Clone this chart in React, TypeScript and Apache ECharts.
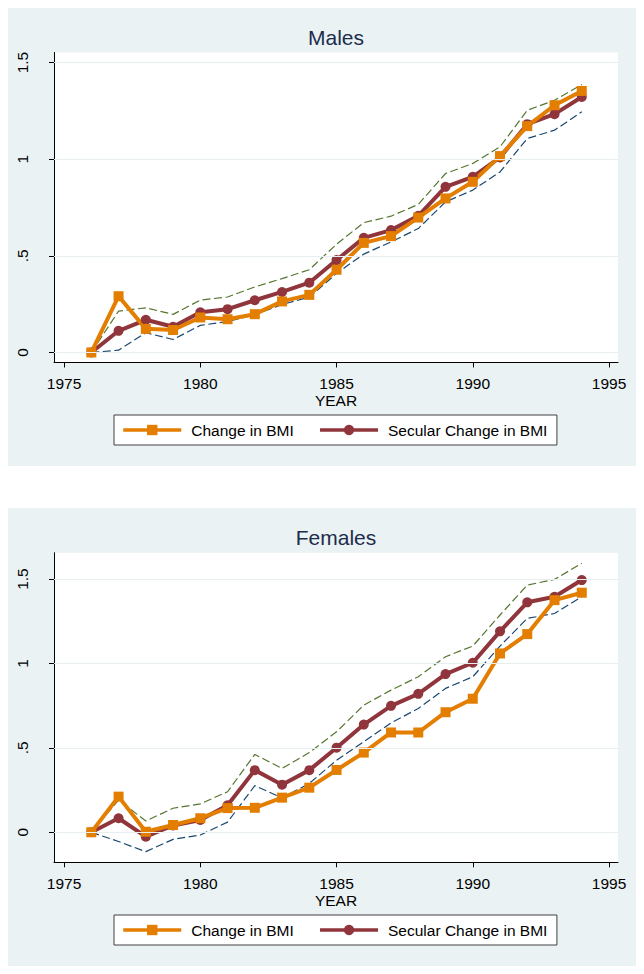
import React, { useEffect, useRef } from "react";
import * as echarts from "echarts";

const years = [1976, 1977, 1978, 1979, 1980, 1981, 1982, 1983, 1984, 1985, 1986, 1987, 1988, 1989, 1990, 1991, 1992, 1993, 1994];

const maleChange = [0, 0.291, 0.122, 0.116, 0.181, 0.172, 0.198, 0.264, 0.298, 0.428, 0.567, 0.602, 0.698, 0.797, 0.883, 1.016, 1.171, 1.279, 1.353];
const maleSecular = [0, 0.112, 0.169, 0.133, 0.208, 0.224, 0.27, 0.313, 0.361, 0.478, 0.593, 0.633, 0.707, 0.857, 0.909, 1.009, 1.181, 1.233, 1.322];
const maleUpper = [0, 0.214, 0.231, 0.197, 0.271, 0.287, 0.339, 0.382, 0.428, 0.56, 0.672, 0.705, 0.766, 0.926, 0.978, 1.064, 1.253, 1.305, 1.386];
const maleLower = [0, 0.012, 0.102, 0.067, 0.14, 0.16, 0.195, 0.248, 0.286, 0.409, 0.509, 0.572, 0.641, 0.779, 0.84, 0.934, 1.107, 1.15, 1.245];

const femaleChange = [0, 0.211, 0.003, 0.043, 0.083, 0.143, 0.145, 0.205, 0.264, 0.369, 0.472, 0.591, 0.591, 0.711, 0.791, 1.059, 1.174, 1.375, 1.419];
const femaleSecular = [0, 0.083, -0.026, 0.04, 0.073, 0.16, 0.368, 0.282, 0.368, 0.501, 0.638, 0.749, 0.82, 0.937, 1.004, 1.19, 1.362, 1.395, 1.494];
const femaleUpper = [0, 0.19, 0.067, 0.142, 0.168, 0.24, 0.461, 0.378, 0.472, 0.595, 0.753, 0.842, 0.921, 1.04, 1.103, 1.287, 1.464, 1.498, 1.593];
const femaleLower = [0, -0.055, -0.115, -0.042, -0.016, 0.06, 0.276, 0.204, 0.289, 0.427, 0.536, 0.648, 0.733, 0.852, 0.921, 1.103, 1.267, 1.296, 1.395];

const xTicks = [1975, 1980, 1985, 1990, 1995];
const yTicks = [0, 0.5, 1, 1.5];
const panelTitles = ["Males", "Females"];
const legendNames = ["Change in BMI", "Secular Change in BMI"];
const xName = "YEAR";

const FONT = 'Arial, "Liberation Sans", sans-serif';
const ORANGE = "#E37E00";
const MAROON = "#90353B";
const GREEN = "#55752F";
const NAVY = "#1A476F";

const pair = (vals: number[]) => years.map((y, i) => [y, vals[i]]);

function panelSeries(idx: number, change: number[], secular: number[], upper: number[], lower: number[]) {
  const common = { type: "line", xAxisIndex: idx, yAxisIndex: idx, silent: true };
  return [
    {
      ...common,
      name: "lower",
      data: pair(lower),
      symbol: "none",
      lineStyle: { color: NAVY, width: 1.2, type: [8, 3.5] },
      markLine: {
        silent: true,
        symbol: ["none", "none"],
        label: { show: false },
        lineStyle: { color: "#E6EEF0", type: "solid", width: 1 },
        data: yTicks.map((v) => ({ yAxis: v })),
      },
    },
    {
      ...common,
      name: "upper",
      data: pair(upper),
      symbol: "none",
      lineStyle: { color: GREEN, width: 1.2, type: [8, 3.5] },
    },
    {
      ...common,
      name: legendNames[1],
      data: pair(secular),
      symbol: "circle",
      symbolSize: 10,
      itemStyle: { color: MAROON },
      lineStyle: { color: MAROON, width: 4 },
    },
    {
      ...common,
      name: legendNames[0],
      data: pair(change),
      symbol: "rect",
      symbolSize: 10,
      itemStyle: { color: ORANGE },
      lineStyle: { color: ORANGE, width: 4 },
    },
  ];
}

const grids = [
  { left: 46, top: 44.5, width: 564, height: 310 },
  { left: 46, top: 544.7, width: 564, height: 309.6 },
];
const yRanges = [
  [-0.052, 1.552],
  [-0.178, 1.656],
];

export default function App() {
  const ref = useRef<HTMLDivElement>(null);
  useEffect(() => {
    if (!ref.current) return;
    const chart = echarts.init(ref.current, undefined, { renderer: "svg" });
    const option: any = {
      animation: false,
      backgroundColor: "#EAF2F3",
      textStyle: { fontFamily: FONT },
      graphic: [
        { type: "rect", left: 0, top: 458, shape: { width: 628, height: 42 }, style: { fill: "#ffffff" }, silent: true },
      ],
      title: panelTitles.map((t, i) => ({
        text: t,
        left: 328,
        textAlign: "center",
        top: 19 + i * 500,
        padding: 0,
        textStyle: { fontSize: 21, fontWeight: "normal", color: "#1E2C4C", fontFamily: FONT },
      })),
      legend: [0, 1].map((i) => ({
        data: legendNames,
        left: 106,
        top: 407 + i * 500,
        orient: "horizontal",
        itemWidth: 58,
        itemHeight: 13,
        itemGap: 24.5,
        padding: [7, 9.5, 7, 7.5],
        backgroundColor: "#ffffff",
        borderColor: "#404040",
        borderWidth: 1,
        borderRadius: 0,
        selectedMode: false,
        lineStyle: { width: 3.5 },
        textStyle: { fontSize: 15.5, color: "#000", fontFamily: FONT, padding: [0, 0, 0, 5] },
      })),
      grid: grids.map((g) => ({ ...g, show: true, backgroundColor: "#ffffff", borderWidth: 0 })),
      xAxis: [0, 1].map((i) => ({
        type: "value",
        gridIndex: i,
        min: 1974.63,
        max: 1995.33,
        name: xName,
        nameLocation: "middle",
        nameGap: 29,
        nameTextStyle: { fontSize: 15.5, color: "#000", fontFamily: FONT },
        axisLine: { show: true, onZero: false, lineStyle: { color: "#000", width: 1 } },
        axisTick: { show: true, length: 5, customValues: xTicks, lineStyle: { color: "#000" } },
        axisLabel: {
          customValues: xTicks,
          margin: 13,
          fontSize: 15.5,
          color: "#000",
          fontFamily: FONT,
          formatter: (v: number) => String(v),
        },
        splitLine: { show: false },
      })),
      yAxis: [0, 1].map((i) => ({
        type: "value",
        gridIndex: i,
        min: yRanges[i][0],
        max: yRanges[i][1],
        axisLine: { show: true, onZero: false, lineStyle: { color: "#000", width: 1 } },
        axisTick: { show: true, length: 5, customValues: yTicks, lineStyle: { color: "#000" } },
        axisLabel: {
          customValues: yTicks,
          rotate: 90,
          margin: 24,
          fontSize: 15.5,
          color: "#000",
          fontFamily: FONT,
          formatter: (v: number) => String(v).replace(/^0\./, "."),
        },
        splitLine: { show: false },
      })),
      series: [
        ...panelSeries(0, maleChange, maleSecular, maleUpper, maleLower),
        ...panelSeries(1, femaleChange, femaleSecular, femaleUpper, femaleLower),
      ],
    };
    chart.setOption(option);
    return () => chart.dispose();
  }, []);
  return <div ref={ref} style={{ width: 628, height: 958 }} />;
}
